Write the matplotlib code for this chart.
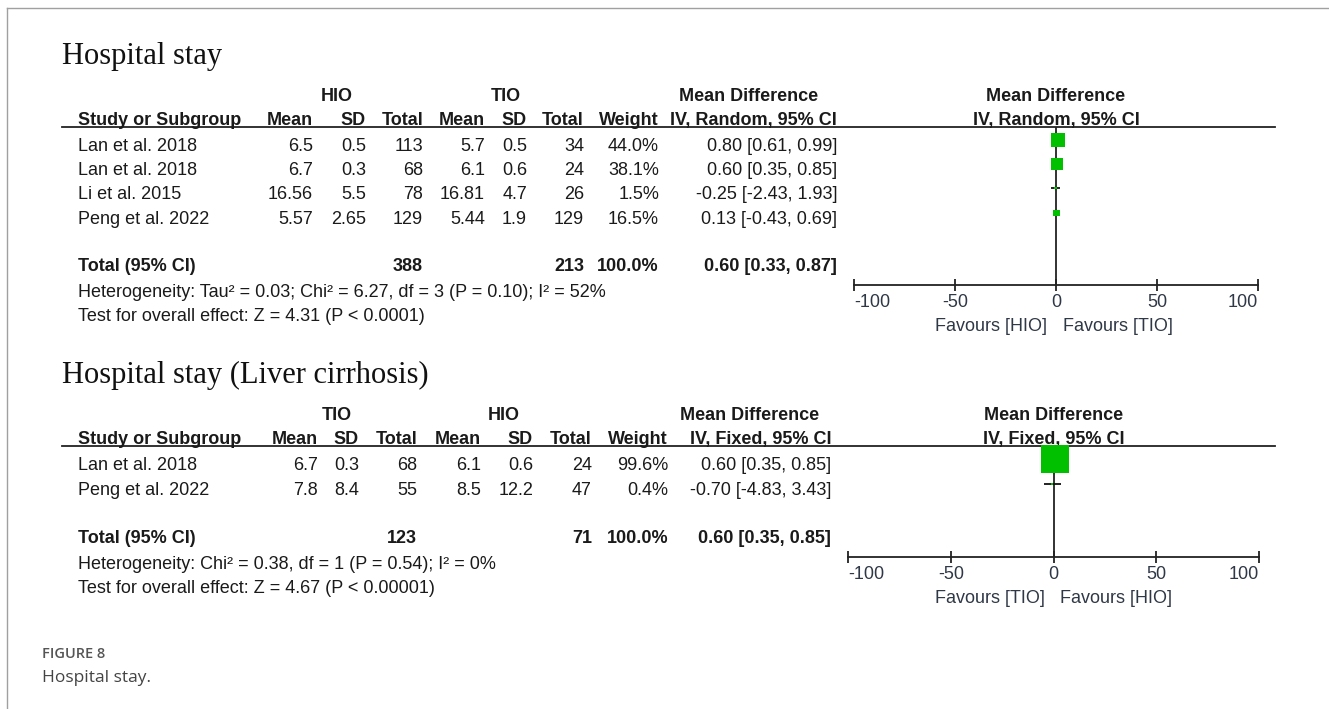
import matplotlib
matplotlib.use("Agg")
import matplotlib.pyplot as plt

plt.rcParams['axes.unicode_minus'] = False

# ---- data: Hospital stay (random effects) ----
studies_1 = ["Lan et al. 2018", "Lan et al. 2018", "Li et al. 2015", "Peng et al. 2022"]
hio_mean_1 = [6.5, 6.7, 16.56, 5.57]
hio_sd_1 = [0.5, 0.3, 5.5, 2.65]
hio_n_1 = [113, 68, 78, 129]
tio_mean_1 = [5.7, 6.1, 16.81, 5.44]
tio_sd_1 = [0.5, 0.6, 4.7, 1.9]
tio_n_1 = [34, 24, 26, 129]
weight_1 = [44.0, 38.1, 1.5, 16.5]
md_1 = [0.80, 0.60, -0.25, 0.13]
lo_1 = [0.61, 0.35, -2.43, -0.43]
hi_1 = [0.99, 0.85, 1.93, 0.69]
total_1 = (388, 213, 0.60, 0.33, 0.87)
het_1 = "Heterogeneity: Tau\u00b2 = 0.03; Chi\u00b2 = 6.27, df = 3 (P = 0.10); I\u00b2 = 52%"
test_1 = "Test for overall effect: Z = 4.31 (P < 0.0001)"

# ---- data: Hospital stay (Liver cirrhosis), fixed effects ----
studies_2 = ["Lan et al. 2018", "Peng et al. 2022"]
tio_mean_2 = [6.7, 7.8]
tio_sd_2 = [0.3, 8.4]
tio_n_2 = [68, 55]
hio_mean_2 = [6.1, 8.5]
hio_sd_2 = [0.6, 12.2]
hio_n_2 = [24, 47]
weight_2 = [99.6, 0.4]
md_2 = [0.60, -0.70]
lo_2 = [0.35, -4.83]
hi_2 = [0.85, 3.43]
total_2 = (123, 71, 0.60, 0.35, 0.85)
het_2 = "Heterogeneity: Chi\u00b2 = 0.38, df = 1 (P = 0.54); I\u00b2 = 0%"
test_2 = "Test for overall effect: Z = 4.67 (P < 0.00001)"

xticks = [-100, -50, 0, 50, 100]

W, H = 1329, 709
SANS = "Liberation Sans"
TXT = "#1a1a1a"
AXC = "#2f3846"
GREEN = "#00c000"

fig = plt.figure(figsize=(W / 100, H / 100), dpi=100)
ax = fig.add_axes([0, 0, 1, 1])
ax.set_xlim(0, W)
ax.set_ylim(H, 0)
ax.axis("off")

# page frame
ax.plot([7, W], [8, 8], color="#a0a0a0", lw=1)
ax.plot([7, 7], [8, H], color="#a0a0a0", lw=1)


def txt(x, y, s, ha="left", bold=False, color=TXT, size=13):
    ax.text(x, y, s, ha=ha, va="baseline", fontsize=size, family=SANS,
            fontweight="bold" if bold else "normal", color=color)


def draw_panel(title, top, g1, g2, model, cols, gcent, rows, total_y, studies,
               m1, s1, n1, m2, s2, n2, w, md, lo, hi, tot, het, test,
               px, fav):
    # title
    ax.text(62, top, title, ha="left", va="baseline", fontsize=22,
            family="Liberation Serif", color="#111111")
    head_y = top + 61
    grp_y = head_y - 24
    txt(gcent[0], grp_y, g1, ha="center", bold=True)
    txt(gcent[1], grp_y, g2, ha="center", bold=True)
    txt(gcent[2], grp_y, "Mean Difference", ha="center", bold=True)
    txt((px[0] + px[1]) / 2, grp_y, "Mean Difference", ha="center", bold=True)
    heads = ["Mean", "SD", "Total", "Mean", "SD", "Total", "Weight",
             "IV, %s, 95%% CI" % model]
    txt(78, head_y, "Study or Subgroup", bold=True)
    for x, h in zip(cols, heads):
        txt(x, head_y, h, ha="right", bold=True)
    txt((px[0] + px[1]) / 2, head_y, "IV, %s, 95%% CI" % model, ha="center", bold=True)
    rule_y = head_y + 2
    ax.plot([62, 1275], [rule_y, rule_y], color="#222222", lw=1.3)

    for i, st in enumerate(studies):
        y = rows[i]
        txt(78, y, st)
        vals = [str(m1[i]), str(s1[i]), str(n1[i]), str(m2[i]), str(s2[i]),
                str(n2[i]), "%.1f%%" % w[i],
                "%.2f [%.2f, %.2f]" % (md[i], lo[i], hi[i])]
        for x, v in zip(cols, vals):
            txt(x, y, v, ha="right")

    txt(78, total_y, "Total (95% CI)", bold=True)
    txt(cols[2], total_y, str(tot[0]), ha="right", bold=True)
    txt(cols[5], total_y, str(tot[1]), ha="right", bold=True)
    txt(cols[6], total_y, "100.0%", ha="right", bold=True)
    txt(cols[7], total_y, "%.2f [%.2f, %.2f]" % tot[2:], ha="right", bold=True)
    txt(78, total_y + 26, het)
    txt(78, total_y + 50, test)

    # forest plot axes: x in mean-difference units, y in page pixels
    axis_y = total_y + 14
    fa = fig.add_axes([px[0] / W, 1 - axis_y / H, (px[1] - px[0]) / W,
                       (axis_y - rule_y) / H])
    fa.set_xlim(xticks[0], xticks[-1])
    fa.set_ylim(axis_y, rule_y)
    fa.patch.set_alpha(0)
    for sp in ("top", "left", "right"):
        fa.spines[sp].set_visible(False)
    fa.spines["bottom"].set_color("#222222")
    fa.spines["bottom"].set_linewidth(1.3)
    fa.set_yticks([])
    fa.set_xticks(xticks)
    labels = fa.set_xticklabels([str(t) for t in xticks], family=SANS,
                                fontsize=13, color=AXC)
    labels[0].set_ha("left")
    labels[-1].set_ha("right")
    fa.tick_params(axis="x", direction="inout", length=8.5, width=1.3,
                   color="#222222", pad=2)
    fa.axvline(0, color="#222222", lw=1.3, zorder=1)
    ys = [r - 11 for r in rows]
    fa.hlines(ys, lo, hi, color="#111111", lw=1.3, zorder=2)
    sizes = [((2.5 + 0.26 * wt) * 0.72) ** 2 for wt in w]
    fa.scatter(md, ys, marker="s", s=sizes, color=GREEN, linewidths=0,
               zorder=3, clip_on=False)

    fav_y = axis_y + 46
    zero_px = (px[0] + px[1]) / 2
    txt(zero_px - 9, fav_y, "Favours [%s]" % fav[0], ha="right", color=AXC)
    txt(zero_px + 7, fav_y, "Favours [%s]" % fav[1], ha="left", color=AXC)


draw_panel("Hospital stay", 64, "HIO", "TIO", "Random",
           [313, 366, 423, 485, 527, 584, 659, 837], [337, 506, 749],
           [151, 175, 199, 224], 271, studies_1,
           hio_mean_1, hio_sd_1, hio_n_1, tio_mean_1, tio_sd_1, tio_n_1,
           weight_1, md_1, lo_1, hi_1, total_1, het_1, test_1,
           (854, 1258), ("HIO", "TIO"))

draw_panel("Hospital stay (Liver cirrhosis)", 383, "TIO", "HIO", "Fixed",
           [318, 359, 417, 481, 533, 592, 668, 831], [337, 504, 750],
           [470, 495], 543, studies_2,
           tio_mean_2, tio_sd_2, tio_n_2, hio_mean_2, hio_sd_2, hio_n_2,
           weight_2, md_2, lo_2, hi_2, total_2, het_2, test_2,
           (848, 1259), ("TIO", "HIO"))

# caption
ax.text(42, 658, "FIGURE 8", ha="left", va="baseline", fontsize=10.5,
        family="Open Sans", fontweight="semibold", color="#555555")
ax.text(42, 682, "Hospital stay.", ha="left", va="baseline", fontsize=12.5,
        family="Open Sans", color="#444444")

fig.savefig("out.png", dpi=100)
